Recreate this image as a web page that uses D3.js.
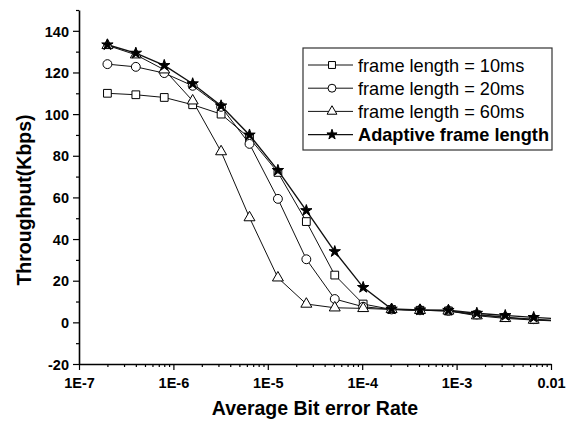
<!DOCTYPE html>
<html>
<head>
<meta charset="utf-8">
<script src="https://cdn.jsdelivr.net/npm/d3@7/dist/d3.min.js"></script>
<style>
	body { margin: 0; background: #fff; }
	svg { display: block; font-family: 'Liberation Sans', Arial, sans-serif; }
	.tick-label { font-size: 14.5px; font-weight: bold; fill: #000; }
	.axis-title { font-size: 19.5px; font-weight: bold; fill: #000; }
	.legend-text { font-size: 18.2px; fill: #000; }
</style>
</head>
<body>
<svg id="chart-svg" width="571" height="423"></svg>
<script>
// bit error rates of the measured points (the last one lies just past the axis end)
const BER = [2e-7, 4e-7, 8e-7, 1.6e-6, 3.2e-6, 6.4e-6, 1.28e-5, 2.56e-5, 5.12e-5, 1.024e-4, 2.048e-4, 4.096e-4, 8.192e-4, 1.6384e-3, 3.2768e-3, 6.5536e-3, 1.31072e-2];

const FRAME_10MS = [110, 109.3, 108, 104.5, 100, 88.5, 72, 48.4, 22.7, 8.8, 6.2, 5.8, 5.5, 3.6, 2.3, 1.3, 0.6];
const FRAME_20MS = [124, 122.7, 119.7, 113.6, 103.5, 85.7, 59.3, 30.3, 11.2, 7.5, 6.2, 5.8, 5.5, 3.8, 2.5, 1.5, 0.8];
const FRAME_60MS = [133, 128.5, 121.3, 106.4, 82, 50.3, 21.4, 8.8, 7, 6.7, 6.2, 5.8, 5.5, 3.2, 1.9, 1.1, 0.5];
const ADAPTIVE = [133.3, 129.3, 123.4, 114.6, 104, 90, 73, 53.7, 34, 16.8, 6.4, 6, 5.8, 4.4, 3.3, 2.4, 1.6];

const SERIES_NAMES = ['frame length = 10ms', 'frame length = 20ms', 'frame length = 60ms', 'Adaptive frame length'];

const X_TICKS = [1e-7, 1e-6, 1e-5, 1e-4, 1e-3, 1e-2];
const X_TICK_LABELS = ['1E-7', '1E-6', '1E-5', '1E-4', '1E-3', '0.01'];
const Y_TICKS = [-20, 0, 20, 40, 60, 80, 100, 120, 140];

const PADDING = { top: 10, bottom: 59, left: 79, right: 20 };

const svg = d3.select('#chart-svg');
const svgWidth = 571;
const svgHeight = 423;

const xScale = d3.scaleLog().domain([1e-7, 1e-2]).range([PADDING.left, svgWidth - PADDING.right]);
const yScale = d3.scaleLinear().domain([-20, 150]).range([svgHeight - PADDING.bottom, PADDING.top]);

const series = [
	{ name: SERIES_NAMES[0], values: FRAME_10MS, symbol: d3.symbolSquare, size: 60, fill: '#fff', width: 1 },
	{ name: SERIES_NAMES[1], values: FRAME_20MS, symbol: d3.symbolCircle, size: 62, fill: '#fff', width: 1 },
	{ name: SERIES_NAMES[2], values: FRAME_60MS, symbol: d3.symbolTriangle, size: 52, fill: '#fff', width: 1 },
	{ name: SERIES_NAMES[3], values: ADAPTIVE, symbol: d3.symbolStar, size: 40, fill: '#000', width: 1.4 }
];

// clip to plot area so the last segment stops at 0.01
svg
	.append('clipPath')
	.attr('id', 'plot-clip')
	.append('rect')
	.attr('x', PADDING.left)
	.attr('y', PADDING.top - 5)
	.attr('width', svgWidth - PADDING.left - PADDING.right)
	.attr('height', svgHeight - PADDING.top - PADDING.bottom + 5);

// minor ticks (2..9 in each decade, and every 10 on y)
const xMinor = [];
for (let d = -7; d < -2; d++) {
	for (let m = 2; m <= 9; m++) xMinor.push(m * Math.pow(10, d));
}
const yMinor = d3.range(-10, 151, 20);

const xAxisG = svg
	.append('g')
	.attr('transform', 'translate(0, ' + (svgHeight - PADDING.bottom) + ')')
	.call(d3.axisBottom(xScale).tickValues(X_TICKS).tickSize(6).tickSizeOuter(0).tickFormat((d, i) => X_TICK_LABELS[i]));
xAxisG
	.append('g')
	.call(d3.axisBottom(xScale).tickValues(xMinor).tickSize(3).tickSizeOuter(0).tickFormat(''))
	.select('.domain')
	.remove();
xAxisG.selectAll('text').attr('class', 'tick-label').attr('y', 14).attr('dy', '0.71em');

const yAxisG = svg
	.append('g')
	.attr('transform', 'translate(' + PADDING.left + ', 0)')
	.call(d3.axisLeft(yScale).tickValues(Y_TICKS).tickSize(6).tickSizeOuter(0).tickFormat((d) => String(d)));
yAxisG
	.append('g')
	.call(d3.axisLeft(yScale).tickValues(yMinor).tickSize(3).tickSizeOuter(0).tickFormat(''))
	.select('.domain')
	.remove();
yAxisG.selectAll('text').attr('class', 'tick-label').attr('x', -10).attr('dy', '0.36em');

svg.selectAll('.domain').attr('stroke', '#000').attr('stroke-width', 1.6);
svg.selectAll('.tick line').attr('stroke', '#000').attr('stroke-width', 1.2);

// axis titles
svg
	.append('text')
	.attr('class', 'axis-title')
	.attr('x', (PADDING.left + svgWidth - PADDING.right) / 2)
	.attr('y', 415)
	.attr('text-anchor', 'middle')
	.text('Average Bit error Rate');
svg
	.append('text')
	.attr('class', 'axis-title')
	.attr('transform', 'translate(31, 200) rotate(-90)')
	.attr('text-anchor', 'middle')
	.text('Throughput(Kbps)');

// lines and markers
const line = d3
	.line()
	.x((d) => xScale(d[0]))
	.y((d) => yScale(d[1]));

const plotG = svg.append('g').attr('clip-path', 'url(#plot-clip)');

series.forEach((s) => {
	const pts = BER.map((b, i) => [ b, s.values[i] ]);
	plotG
		.append('path')
		.datum(pts)
		.attr('d', line)
		.attr('fill', 'none')
		.attr('stroke', '#111')
		.attr('stroke-width', s.width);
});

series.forEach((s) => {
	const pts = BER.map((b, i) => [ b, s.values[i] ]);
	plotG
		.selectAll(null)
		.data(pts)
		.enter()
		.append('path')
		.attr('transform', (d) => 'translate(' + xScale(d[0]) + ',' + yScale(d[1]) + ')')
		.attr('d', d3.symbol().type(s.symbol).size(s.size))
		.attr('fill', s.fill)
		.attr('stroke', '#000')
		.attr('stroke-width', 1);
});

// legend
const legendG = svg.append('g').attr('transform', 'translate(303, 48)');
legendG
	.append('rect')
	.attr('width', 249)
	.attr('height', 102)
	.attr('fill', '#fff')
	.attr('stroke', '#333')
	.attr('stroke-width', 1.2);
series.forEach((s, i) => {
	const cy = 17 + i * 23.2;
	legendG
		.append('line')
		.attr('x1', 5)
		.attr('x2', 50)
		.attr('y1', cy)
		.attr('y2', cy)
		.attr('stroke', '#111')
		.attr('stroke-width', s.width);
	legendG
		.append('path')
		.attr('transform', 'translate(29,' + cy + ')')
		.attr('d', d3.symbol().type(s.symbol).size(s.size * 0.8))
		.attr('fill', s.fill)
		.attr('stroke', '#000')
		.attr('stroke-width', 1);
	legendG
		.append('text')
		.attr('class', 'legend-text')
		.attr('x', 55)
		.attr('y', cy)
		.attr('dy', '0.36em')
		.style('font-weight', i == 3 ? 'bold' : 'normal')
		.text(s.name);
});
</script>
</body>
</html>
